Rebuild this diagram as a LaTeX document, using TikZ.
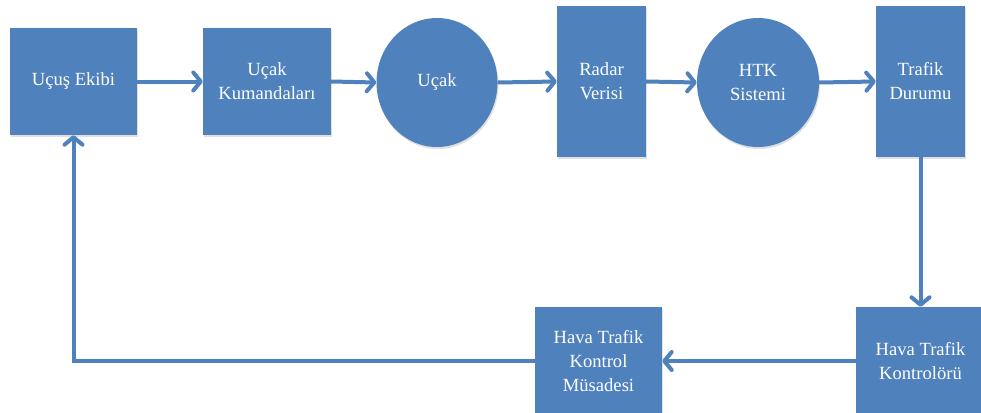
\documentclass[tikz,border=0pt]{standalone}
\usepackage{fontspec}
\setmainfont{Liberation Serif}
\usetikzlibrary{arrows.meta,shadows,shapes.geometric}
\definecolor{boxblue}{HTML}{4F81BD}
\begin{document}
\begin{tikzpicture}[x=1pt,y=-1pt,
  blk/.style={fill=boxblue, draw=none, text=white,
    font=\fontsize{18.6}{24}\selectfont, align=center, inner sep=0pt,
    drop shadow={shadow xshift=1pt,shadow yshift=-2pt,opacity=0.25}},
  rbox/.style 2 args={blk, rectangle, minimum width=#1pt, minimum height=#2pt},
  ebox/.style 2 args={blk, ellipse, minimum width=#1pt, minimum height=#2pt},
  flow/.style={draw=boxblue, line width=4pt,
    -{Straight Barb[length=7.5pt,width=18pt,line cap=round,line join=round]}}
]
\clip (0,0) rectangle (981,412);
\fill[white] (0,0) rectangle (981,412);

\node[rbox={127}{107}] (ekibi) at (73.5,81.5) {Uçuş Ekibi};
\node[rbox={128}{107}] (kuman) at (267,81.5) {Uçak\\Kumandaları};
\node[ebox={121}{129}] (ucak) at (437,82.5) {Uçak};
\node[rbox={89}{151}] (radar) at (601.5,81.5) {Radar\\Verisi};
\node[ebox={122}{129}] (htk) at (758,82.5) {HTK\\Sistemi};
\node[rbox={89}{151}] (trafik) at (920.5,81.5) {Trafik\\Durumu};
\node[rbox={129}{108}] (kontrolor) at (920.5,361) {Hava Trafik\\Kontrolörü};
\node[rbox={127}{108}] (musade) at (598.5,361) {Hava Trafik\\Kontrol\\Müsadesi};

\draw[flow] (ekibi.east) -- (kuman.west);
\draw[flow] (kuman.east) -- (ucak.west);
\draw[flow] (ucak.east) -- (radar.west);
\draw[flow] (radar.east) -- (htk.west);
\draw[flow] (htk.east) -- (trafik.west);
\draw[flow] (trafik.south) -- (kontrolor.north);
\draw[flow] (kontrolor.west) -- (musade.east);
\draw[flow] (musade.west) -- (ekibi.south |- musade.west) -- (ekibi.south);
\end{tikzpicture}
\end{document}
